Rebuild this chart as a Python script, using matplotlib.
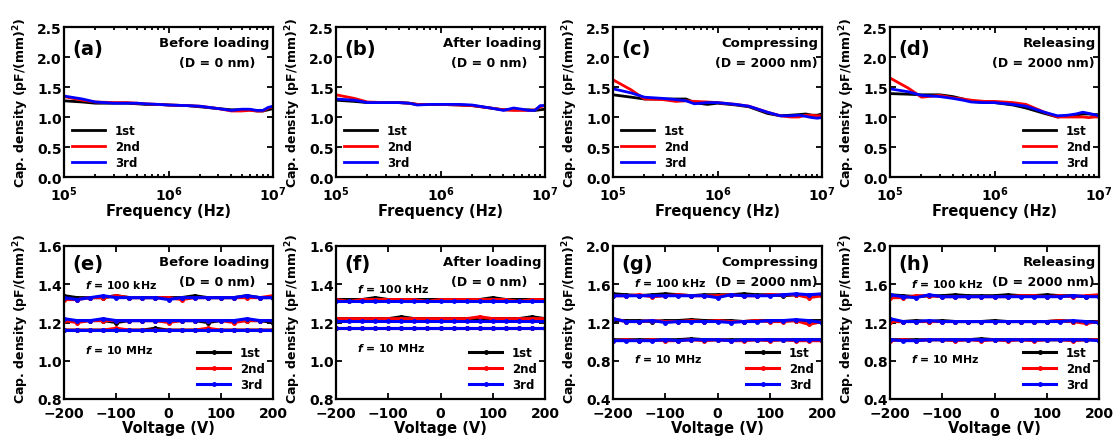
import numpy as np
import matplotlib.pyplot as plt

plt.rcParams['font.family'] = 'DejaVu Sans'
plt.rcParams['font.weight'] = 'bold'
plt.rcParams['mathtext.default'] = 'regular'

# frequency sweeps (Hz) and capacitance density (pF/mm^2)
freq = [1e5, 1.5e5, 2e5, 3e5, 4e5, 5e5, 6e5, 8e5, 1e6, 1.5e6, 2e6, 3e6, 4e6, 5e6, 6e6, 7e6, 8e6, 9e6, 1e7]

cf_a_1st = [1.27, 1.25, 1.23, 1.23, 1.23, 1.22, 1.21, 1.21, 1.20, 1.19, 1.17, 1.14, 1.12, 1.12, 1.12, 1.10, 1.10, 1.12, 1.14]
cf_a_2nd = [1.34, 1.28, 1.25, 1.24, 1.24, 1.23, 1.22, 1.21, 1.20, 1.19, 1.18, 1.14, 1.10, 1.10, 1.11, 1.10, 1.10, 1.15, 1.17]
cf_a_3rd = [1.35, 1.30, 1.25, 1.23, 1.23, 1.23, 1.22, 1.21, 1.20, 1.19, 1.18, 1.14, 1.11, 1.13, 1.13, 1.11, 1.11, 1.16, 1.18]

cf_b_1st = [1.28, 1.26, 1.24, 1.24, 1.24, 1.23, 1.21, 1.21, 1.21, 1.20, 1.19, 1.15, 1.12, 1.12, 1.12, 1.12, 1.11, 1.12, 1.13]
cf_b_2nd = [1.37, 1.31, 1.25, 1.24, 1.24, 1.23, 1.21, 1.21, 1.21, 1.20, 1.19, 1.15, 1.12, 1.11, 1.11, 1.11, 1.12, 1.17, 1.19]
cf_b_3rd = [1.30, 1.28, 1.24, 1.24, 1.24, 1.23, 1.20, 1.21, 1.21, 1.21, 1.20, 1.15, 1.11, 1.15, 1.13, 1.11, 1.11, 1.19, 1.19]

cf_c_1st = [1.37, 1.33, 1.30, 1.30, 1.30, 1.30, 1.24, 1.21, 1.23, 1.20, 1.17, 1.06, 1.02, 1.03, 1.04, 1.05, 1.03, 1.03, 1.05]
cf_c_2nd = [1.62, 1.45, 1.30, 1.29, 1.26, 1.27, 1.26, 1.25, 1.24, 1.21, 1.18, 1.08, 1.02, 1.00, 1.00, 1.03, 1.03, 1.02, 1.02]
cf_c_3rd = [1.47, 1.40, 1.33, 1.31, 1.29, 1.27, 1.22, 1.24, 1.24, 1.21, 1.18, 1.08, 1.02, 1.02, 1.03, 1.01, 0.99, 0.98, 0.99]

cf_d_1st = [1.39, 1.38, 1.37, 1.37, 1.34, 1.30, 1.26, 1.24, 1.24, 1.20, 1.15, 1.06, 1.00, 1.02, 1.03, 1.05, 1.05, 1.04, 1.04]
cf_d_2nd = [1.65, 1.48, 1.33, 1.36, 1.32, 1.30, 1.28, 1.26, 1.26, 1.24, 1.21, 1.08, 1.00, 1.00, 1.00, 1.00, 0.99, 1.00, 1.00]
cf_d_3rd = [1.47, 1.42, 1.36, 1.34, 1.31, 1.28, 1.25, 1.24, 1.24, 1.21, 1.18, 1.08, 1.02, 1.03, 1.05, 1.08, 1.06, 1.04, 1.02]

# voltage sweeps (V); each run holds rows for 100 kHz, 1 MHz, 10 MHz
volt = [-200, -175, -150, -125, -100, -75, -50, -25, 0, 25, 50, 75, 100, 125, 150, 175, 200]

cv_e_1st = [[1.34, 1.33, 1.33, 1.33, 1.34, 1.33, 1.33, 1.33, 1.33, 1.33, 1.34, 1.33, 1.33, 1.33, 1.34, 1.33, 1.33],
            [1.21, 1.21, 1.21, 1.21, 1.20, 1.21, 1.21, 1.21, 1.21, 1.21, 1.21, 1.20, 1.21, 1.21, 1.21, 1.21, 1.20],
            [1.16, 1.16, 1.16, 1.16, 1.16, 1.16, 1.16, 1.17, 1.16, 1.16, 1.16, 1.16, 1.16, 1.16, 1.16, 1.16, 1.16]]
cv_e_2nd = [[1.32, 1.32, 1.33, 1.33, 1.34, 1.33, 1.33, 1.33, 1.33, 1.32, 1.33, 1.33, 1.33, 1.33, 1.33, 1.33, 1.34],
            [1.21, 1.20, 1.21, 1.21, 1.21, 1.21, 1.21, 1.21, 1.20, 1.21, 1.21, 1.21, 1.21, 1.20, 1.21, 1.21, 1.21],
            [1.16, 1.16, 1.16, 1.16, 1.17, 1.16, 1.16, 1.16, 1.16, 1.16, 1.16, 1.17, 1.16, 1.16, 1.16, 1.16, 1.16]]
cv_e_3rd = [[1.33, 1.32, 1.33, 1.34, 1.33, 1.33, 1.33, 1.33, 1.32, 1.33, 1.33, 1.33, 1.33, 1.33, 1.34, 1.33, 1.33],
            [1.22, 1.21, 1.21, 1.22, 1.21, 1.21, 1.21, 1.21, 1.21, 1.21, 1.21, 1.21, 1.21, 1.21, 1.22, 1.21, 1.21],
            [1.16, 1.16, 1.16, 1.16, 1.16, 1.16, 1.16, 1.16, 1.16, 1.16, 1.16, 1.16, 1.16, 1.16, 1.16, 1.16, 1.16]]

cv_f_1st = [[1.32, 1.32, 1.32, 1.33, 1.32, 1.32, 1.32, 1.32, 1.32, 1.32, 1.32, 1.32, 1.33, 1.32, 1.32, 1.32, 1.32],
            [1.22, 1.22, 1.22, 1.22, 1.22, 1.23, 1.22, 1.22, 1.22, 1.22, 1.22, 1.22, 1.22, 1.22, 1.22, 1.23, 1.22],
            [1.17, 1.17, 1.17, 1.17, 1.17, 1.17, 1.17, 1.17, 1.17, 1.17, 1.17, 1.17, 1.17, 1.17, 1.17, 1.17, 1.17]]
cv_f_2nd = [[1.32, 1.31, 1.32, 1.32, 1.32, 1.32, 1.32, 1.31, 1.32, 1.32, 1.32, 1.32, 1.32, 1.32, 1.31, 1.32, 1.32],
            [1.22, 1.22, 1.22, 1.22, 1.22, 1.22, 1.22, 1.22, 1.22, 1.22, 1.22, 1.23, 1.22, 1.22, 1.22, 1.22, 1.22],
            [1.17, 1.17, 1.17, 1.17, 1.17, 1.17, 1.17, 1.17, 1.17, 1.17, 1.17, 1.17, 1.17, 1.17, 1.17, 1.17, 1.17]]
cv_f_3rd = [[1.31, 1.31, 1.31, 1.31, 1.31, 1.31, 1.31, 1.31, 1.31, 1.31, 1.31, 1.31, 1.31, 1.31, 1.31, 1.31, 1.31],
            [1.21, 1.21, 1.21, 1.21, 1.21, 1.21, 1.21, 1.21, 1.21, 1.21, 1.21, 1.21, 1.21, 1.21, 1.21, 1.21, 1.21],
            [1.17, 1.17, 1.17, 1.17, 1.17, 1.17, 1.17, 1.17, 1.17, 1.17, 1.17, 1.17, 1.17, 1.17, 1.17, 1.17, 1.17]]

cv_g_1st = [[1.50, 1.49, 1.48, 1.49, 1.50, 1.49, 1.48, 1.49, 1.49, 1.49, 1.50, 1.49, 1.49, 1.48, 1.49, 1.48, 1.49],
            [1.22, 1.22, 1.22, 1.21, 1.22, 1.22, 1.23, 1.22, 1.22, 1.22, 1.21, 1.22, 1.22, 1.22, 1.22, 1.22, 1.22],
            [1.02, 1.02, 1.02, 1.02, 1.02, 1.02, 1.03, 1.02, 1.02, 1.02, 1.02, 1.02, 1.02, 1.02, 1.02, 1.02, 1.02]]
cv_g_2nd = [[1.48, 1.48, 1.49, 1.47, 1.48, 1.49, 1.48, 1.48, 1.48, 1.49, 1.48, 1.48, 1.49, 1.49, 1.49, 1.46, 1.48],
            [1.24, 1.21, 1.21, 1.22, 1.21, 1.21, 1.22, 1.21, 1.22, 1.21, 1.21, 1.22, 1.21, 1.21, 1.22, 1.18, 1.21],
            [1.01, 1.02, 1.01, 1.02, 1.01, 1.01, 1.02, 1.01, 1.02, 1.01, 1.01, 1.02, 1.01, 1.02, 1.01, 1.01, 1.01]]
cv_g_3rd = [[1.48, 1.48, 1.48, 1.48, 1.48, 1.48, 1.48, 1.48, 1.46, 1.49, 1.48, 1.48, 1.48, 1.49, 1.50, 1.49, 1.50],
            [1.24, 1.21, 1.21, 1.22, 1.20, 1.21, 1.21, 1.21, 1.21, 1.20, 1.21, 1.21, 1.22, 1.22, 1.23, 1.22, 1.20],
            [1.01, 1.01, 1.01, 1.01, 1.02, 1.01, 1.02, 1.02, 1.02, 1.01, 1.02, 1.02, 1.02, 1.02, 1.02, 1.02, 1.02]]

cv_h_1st = [[1.49, 1.48, 1.47, 1.48, 1.48, 1.49, 1.48, 1.48, 1.48, 1.49, 1.48, 1.48, 1.49, 1.48, 1.48, 1.47, 1.48],
            [1.21, 1.21, 1.22, 1.21, 1.22, 1.21, 1.21, 1.21, 1.22, 1.21, 1.21, 1.21, 1.21, 1.22, 1.21, 1.21, 1.21],
            [1.02, 1.02, 1.02, 1.02, 1.02, 1.02, 1.02, 1.03, 1.02, 1.02, 1.02, 1.02, 1.02, 1.02, 1.02, 1.02, 1.02]]
cv_h_2nd = [[1.46, 1.46, 1.48, 1.48, 1.47, 1.47, 1.47, 1.47, 1.47, 1.47, 1.48, 1.48, 1.47, 1.48, 1.47, 1.48, 1.49],
            [1.21, 1.21, 1.21, 1.21, 1.21, 1.21, 1.21, 1.21, 1.21, 1.21, 1.21, 1.21, 1.21, 1.22, 1.21, 1.19, 1.21],
            [1.01, 1.02, 1.01, 1.02, 1.02, 1.01, 1.02, 1.01, 1.02, 1.01, 1.02, 1.01, 1.02, 1.02, 1.01, 1.02, 1.02]]
cv_h_3rd = [[1.49, 1.47, 1.46, 1.49, 1.47, 1.47, 1.47, 1.47, 1.47, 1.47, 1.47, 1.47, 1.47, 1.47, 1.48, 1.47, 1.47],
            [1.24, 1.21, 1.21, 1.22, 1.21, 1.21, 1.21, 1.21, 1.21, 1.21, 1.21, 1.21, 1.21, 1.21, 1.22, 1.21, 1.20],
            [1.02, 1.01, 1.01, 1.02, 1.02, 1.02, 1.02, 1.02, 1.02, 1.02, 1.02, 1.02, 1.02, 1.02, 1.02, 1.02, 1.01]]

runs = ['1st', '2nd', '3rd']
colors = ['black', 'red', 'blue']

freq_panels = [
    ('(a)', 'Before loading', '(D = 0 nm)', [cf_a_1st, cf_a_2nd, cf_a_3rd], 'lower left'),
    ('(b)', 'After loading', '(D = 0 nm)', [cf_b_1st, cf_b_2nd, cf_b_3rd], 'lower left'),
    ('(c)', 'Compressing', '(D = 2000 nm)', [cf_c_1st, cf_c_2nd, cf_c_3rd], 'lower left'),
    ('(d)', 'Releasing', '(D = 2000 nm)', [cf_d_1st, cf_d_2nd, cf_d_3rd], 'lower right'),
]
volt_panels = [
    ('(e)', 'Before loading', '(D = 0 nm)', [cv_e_1st, cv_e_2nd, cv_e_3rd], (0.8, 1.6), 0.2),
    ('(f)', 'After loading', '(D = 0 nm)', [cv_f_1st, cv_f_2nd, cv_f_3rd], (0.8, 1.6), 0.2),
    ('(g)', 'Compressing', '(D = 2000 nm)', [cv_g_1st, cv_g_2nd, cv_g_3rd], (0.4, 2.0), 0.4),
    ('(h)', 'Releasing', '(D = 2000 nm)', [cv_h_1st, cv_h_2nd, cv_h_3rd], (0.4, 2.0), 0.4),
]

W, H = 1115, 439
fig = plt.figure(figsize=(W / 100, H / 100), dpi=100)
lefts = [64, 336, 613, 890]
ylab = r'Cap. density (pF/(mm)$^\mathbf{2}$)'


def style(ax, xpad):
    for s in ax.spines.values():
        s.set_linewidth(1.6)
    ax.tick_params(which='both', direction='in', top=True, right=True, labelsize=10, width=1.3)
    ax.tick_params(axis='y', pad=1.5)
    ax.tick_params(axis='x', pad=xpad)
    ax.tick_params(which='major', length=4)
    ax.tick_params(which='minor', length=2)
    for lab in ax.get_xticklabels() + ax.get_yticklabels():
        lab.set_fontweight('bold')


def titles(ax, tag, line1, line2, tag_y=0.86):
    ax.text(0.04, tag_y, tag, transform=ax.transAxes, fontsize=14, fontweight='bold', va='center')
    ax.text(0.985, 0.9, line1, transform=ax.transAxes, fontsize=9.5, fontweight='bold', ha='right', va='center')
    ax.text(0.735, 0.765, line2, transform=ax.transAxes, fontsize=9, fontweight='bold', ha='center', va='center')


for i, (tag, l1, l2, curves, loc) in enumerate(freq_panels):
    ax = fig.add_axes([lefts[i] / W, 1 - 178 / H, 209 / W, 150 / H])
    for y, c, r in zip(curves, colors, runs):
        ax.plot(freq, y, color=c, lw=2, label=r)
    ax.set_xscale('log')
    ax.set_xlim(1e5, 1e7)
    ax.set_ylim(0, 2.5)
    ax.set_yticks(np.arange(0, 2.51, 0.5))
    ax.set_xlabel('Frequency (Hz)', fontsize=10.5, fontweight='bold', labelpad=0)
    ax.set_ylabel(ylab, fontsize=9, fontweight='bold')
    ax.yaxis.set_label_coords(-0.16, 0.5)
    style(ax, 5.5)
    titles(ax, tag, l1, l2)
    ax.legend(loc=loc, frameon=False, handlelength=2.8, labelspacing=0.25,
              borderaxespad=0.3, prop={'weight': 'bold', 'size': 8.5})

for i, (tag, l1, l2, curves, ylim, step) in enumerate(volt_panels):
    ax = fig.add_axes([lefts[i] / W, 1 - 400 / H, 209 / W, 153 / H])
    for rows, c, r in zip(curves, colors, runs):
        for k, y in enumerate(rows):
            ax.plot(volt, y, color=c, lw=2.2, marker='o', ms=2.5, label=r if k == 0 else None)
    ax.set_xlim(-200, 200)
    ax.set_ylim(*ylim)
    ax.set_xticks([-200, -100, 0, 100, 200])
    ax.set_yticks(np.arange(ylim[0], ylim[1] + 1e-6, step))
    ax.yaxis.set_major_formatter(plt.FormatStrFormatter('%.1f'))
    ax.set_xlabel('Voltage (V)', fontsize=10.5, fontweight='bold', labelpad=0)
    ax.set_ylabel(ylab, fontsize=9, fontweight='bold')
    ax.yaxis.set_label_coords(-0.16, 0.53)
    style(ax, 5)
    titles(ax, tag, l1, l2, tag_y=0.885)
    hi = curves[0][0][0]
    lo = curves[0][2][0]
    span = ylim[1] - ylim[0]
    ax.text(0.1, (hi - ylim[0]) / span + 0.075, r'$\mathit{f}$ = 100 kHz', transform=ax.transAxes,
            fontsize=7.8, fontweight='bold', va='center')
    ax.text(0.1, (lo - ylim[0]) / span - 0.12, r'$\mathit{f}$ = 10 MHz', transform=ax.transAxes,
            fontsize=7.8, fontweight='bold', va='center')
    ax.legend(loc='lower right', frameon=False, handlelength=2.8, labelspacing=0.25,
              borderaxespad=0.3, prop={'weight': 'bold', 'size': 8.5})

fig.savefig('out.png', dpi=100)
